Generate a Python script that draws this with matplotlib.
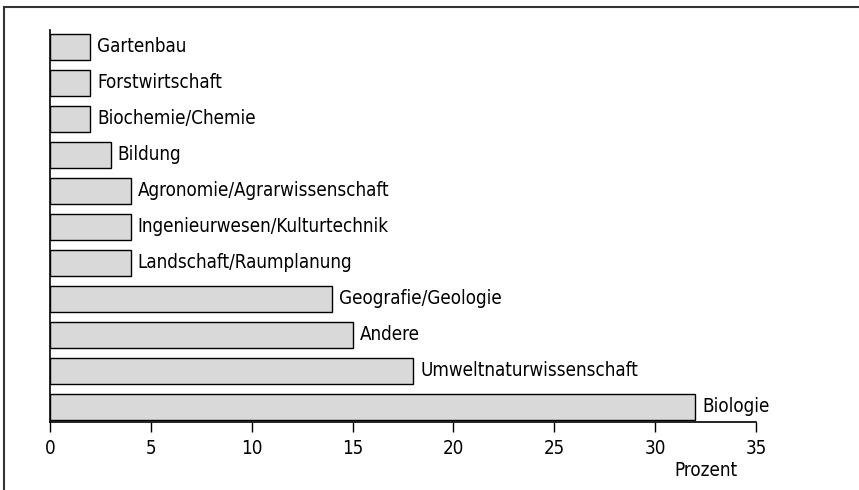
import matplotlib.pyplot as plt
from matplotlib.lines import Line2D

# data (top to bottom as shown)
fields = ['Gartenbau', 'Forstwirtschaft', 'Biochemie/Chemie', 'Bildung',
          'Agronomie/Agrarwissenschaft', 'Ingenieurwesen/Kulturtechnik',
          'Landschaft/Raumplanung', 'Geografie/Geologie', 'Andere',
          'Umweltnaturwissenschaft', 'Biologie']
percent = [2, 2, 2, 3, 4, 4, 4, 14, 15, 18, 32]
xticks = [0, 5, 10, 15, 20, 25, 30, 35]

plt.rcParams['font.family'] = ['DejaVu Sans']
plt.rcParams['font.stretch'] = 'condensed'

fig = plt.figure(figsize=(8.59, 4.9), dpi=100)
ax = fig.add_axes([50/859, 1 - 422/490, (756 - 50)/859, (422 - 30)/490])

n = len(fields)
ypos = [n - 1 - i for i in range(n)]
ax.barh(ypos, percent, height=0.72, color='#d9d9d9', edgecolor='black', linewidth=1.0)
for y, v, name in zip(ypos, percent, fields):
    ax.annotate(name, (v, y), xytext=(5, 0), textcoords='offset points',
                ha='left', va='center', fontsize=13.5, fontstretch='condensed')

ax.set_xlim(0, 35)
ax.set_ylim(-0.42, n - 1 + 0.47)
ax.set_xticks(xticks)
ax.set_xticklabels([str(t) for t in xticks], fontsize=13.5, fontstretch='condensed')
ax.set_yticks([])
ax.tick_params(axis='x', direction='out', length=7, width=1.0, pad=5)
for s in ['top', 'right']:
    ax.spines[s].set_visible(False)
for s in ['left', 'bottom']:
    ax.spines[s].set_linewidth(1.2)

fig.text(738/859, 1 - 470/490, 'Prozent', ha='right', va='center',
         fontsize=13.5, fontstretch='condensed')

# frame lines (top and left)
fig.add_artist(Line2D([4/859, 1], [1 - 7/490, 1 - 7/490], color='#333333', lw=1.5,
                      transform=fig.transFigure))
fig.add_artist(Line2D([4/859, 4/859], [0, 1 - 7/490], color='#333333', lw=1.5,
                      transform=fig.transFigure))

fig.savefig('out.png', dpi=100)
